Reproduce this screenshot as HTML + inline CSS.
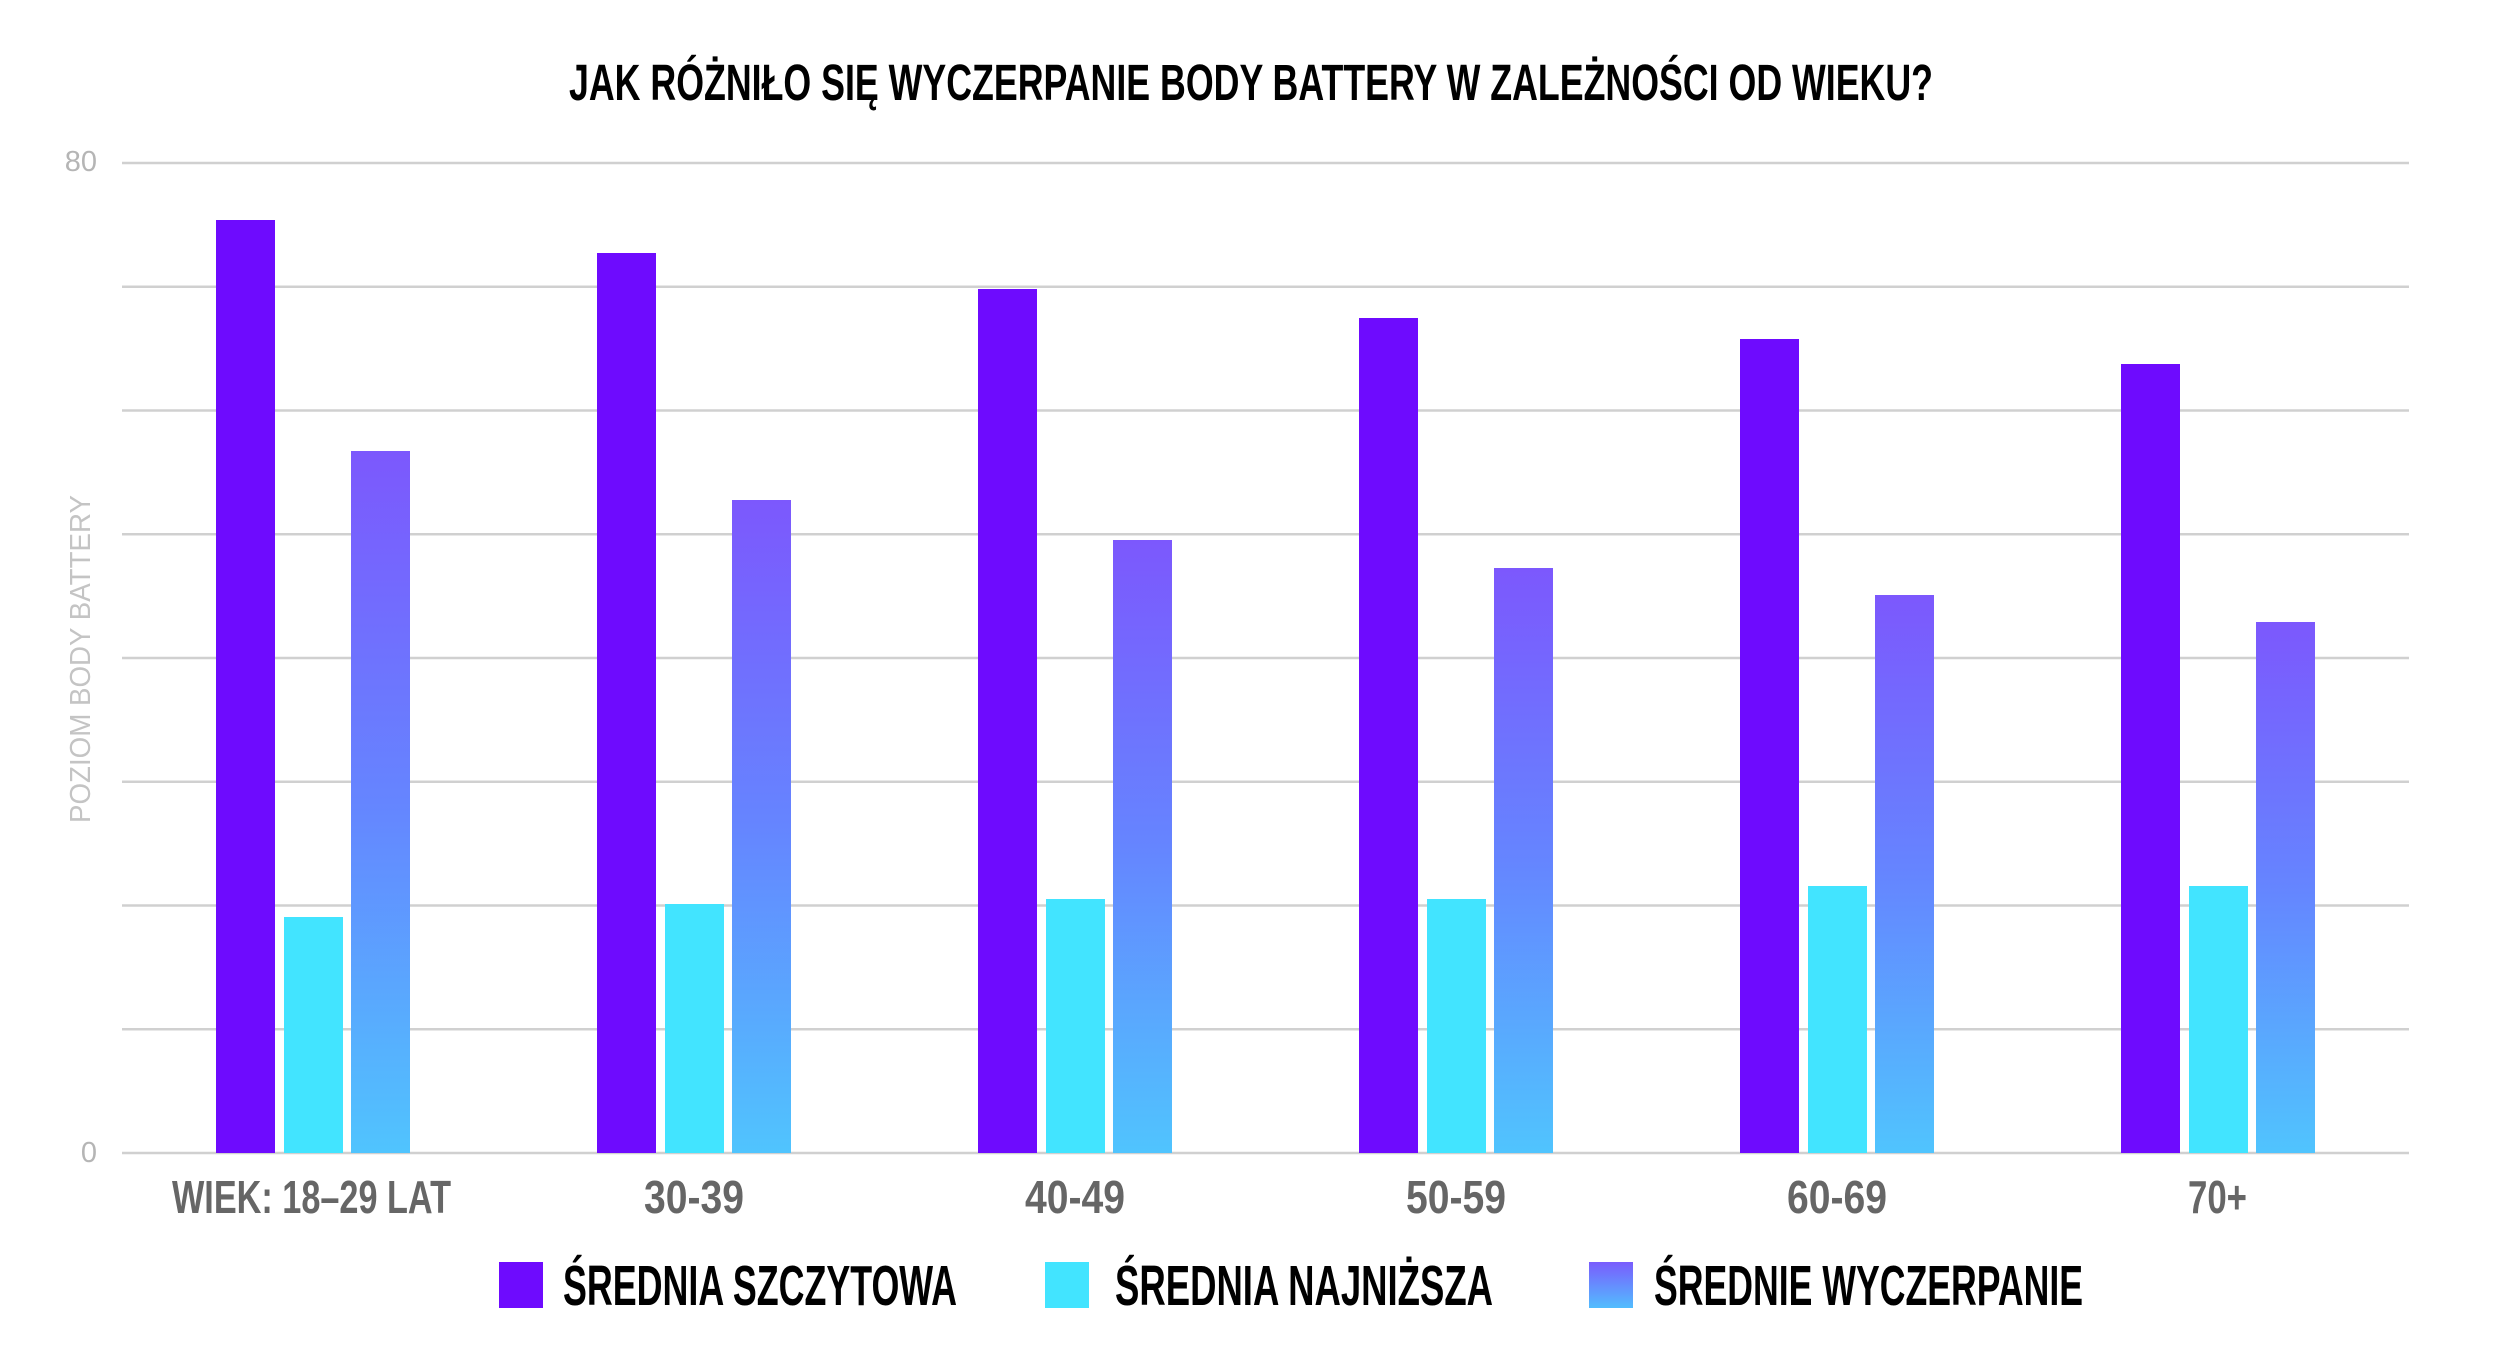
<!DOCTYPE html>
<html><head><meta charset="utf-8"><style>html,body{margin:0;padding:0;background:#fff}svg{display:block}</style></head>
<body>
<svg width="2501" height="1372" viewBox="0 0 2501 1372" xmlns="http://www.w3.org/2000/svg">
<defs>
<linearGradient id="g" x1="0" y1="0" x2="0" y2="1">
<stop offset="0" stop-color="#7c58fd"/><stop offset="0.5" stop-color="#6585ff"/><stop offset="1" stop-color="#50c4fe"/>
</linearGradient>
<linearGradient id="gl" x1="0" y1="0" x2="0" y2="1">
<stop offset="0" stop-color="#7a5cfd"/><stop offset="1" stop-color="#52bdfe"/>
</linearGradient>
</defs>
<g font-family="Liberation Sans, sans-serif">
<text x="569" y="100" font-size="51" font-weight="bold" fill="#000" textLength="1364" lengthAdjust="spacingAndGlyphs">JAK RÓŻNIŁO SIĘ WYCZERPANIE BODY BATTERY W ZALEŻNOŚCI OD WIEKU?</text>
<g stroke="#d0d0d0" stroke-width="2.5">
<line x1="122" y1="163" x2="2409" y2="163"/><line x1="122" y1="286.75" x2="2409" y2="286.75"/>
<line x1="122" y1="410.5" x2="2409" y2="410.5"/><line x1="122" y1="534.25" x2="2409" y2="534.25"/>
<line x1="122" y1="658" x2="2409" y2="658"/><line x1="122" y1="781.75" x2="2409" y2="781.75"/>
<line x1="122" y1="905.5" x2="2409" y2="905.5"/><line x1="122" y1="1029.25" x2="2409" y2="1029.25"/>
<line x1="122" y1="1153" x2="2409" y2="1153"/>
</g>
<text x="97" y="171" font-size="29" fill="#b5b5b5" text-anchor="end">80</text>
<text x="97" y="1162" font-size="29" fill="#b5b5b5" text-anchor="end">0</text>
<text transform="translate(90,823) rotate(-90)" font-size="29" fill="#c4c4c4" textLength="328" lengthAdjust="spacingAndGlyphs">POZIOM BODY BATTERY</text>
<g id="bars">
<rect x="216" y="220" width="59" height="933" fill="#6e0bfe"/><rect x="284" y="917" width="59" height="236" fill="#42e4ff"/><rect x="351" y="451" width="59" height="702" fill="url(#g)"/>
<rect x="597" y="253" width="59" height="900" fill="#6e0bfe"/><rect x="665" y="904" width="59" height="249" fill="#42e4ff"/><rect x="732" y="500" width="59" height="653" fill="url(#g)"/>
<rect x="978" y="289" width="59" height="864" fill="#6e0bfe"/><rect x="1046" y="899" width="59" height="254" fill="#42e4ff"/><rect x="1113" y="540" width="59" height="613" fill="url(#g)"/>
<rect x="1359" y="318" width="59" height="835" fill="#6e0bfe"/><rect x="1427" y="899" width="59" height="254" fill="#42e4ff"/><rect x="1494" y="568" width="59" height="585" fill="url(#g)"/>
<rect x="1740" y="339" width="59" height="814" fill="#6e0bfe"/><rect x="1808" y="886" width="59" height="267" fill="#42e4ff"/><rect x="1875" y="595" width="59" height="558" fill="url(#g)"/>
<rect x="2121" y="364" width="59" height="789" fill="#6e0bfe"/><rect x="2189" y="886" width="59" height="267" fill="#42e4ff"/><rect x="2256" y="622" width="59" height="531" fill="url(#g)"/>
</g>
<g font-size="46" font-weight="bold" fill="#666">
<text x="172" y="1213" textLength="279" lengthAdjust="spacingAndGlyphs">WIEK: 18–29 LAT</text>
<text x="694" y="1213" text-anchor="middle" textLength="100" lengthAdjust="spacingAndGlyphs">30-39</text>
<text x="1075" y="1213" text-anchor="middle" textLength="100" lengthAdjust="spacingAndGlyphs">40-49</text>
<text x="1456" y="1213" text-anchor="middle" textLength="100" lengthAdjust="spacingAndGlyphs">50-59</text>
<text x="1837" y="1213" text-anchor="middle" textLength="100" lengthAdjust="spacingAndGlyphs">60-69</text>
<text x="2188" y="1213" textLength="59" lengthAdjust="spacingAndGlyphs">70+</text>
</g>
<rect x="499" y="1262" width="44" height="46" fill="#6e0bfe"/>
<rect x="1045" y="1262" width="44" height="46" fill="#42e4ff"/>
<rect x="1589" y="1262" width="44" height="46" fill="url(#gl)"/>
<g font-size="57" font-weight="bold" fill="#000">
<text x="563" y="1305" textLength="394" lengthAdjust="spacingAndGlyphs">ŚREDNIA SZCZYTOWA</text>
<text x="1115" y="1305" textLength="378" lengthAdjust="spacingAndGlyphs">ŚREDNIA NAJNIŻSZA</text>
<text x="1654" y="1305" textLength="429" lengthAdjust="spacingAndGlyphs">ŚREDNIE WYCZERPANIE</text>
</g>
</g>
</svg>
</body></html>
